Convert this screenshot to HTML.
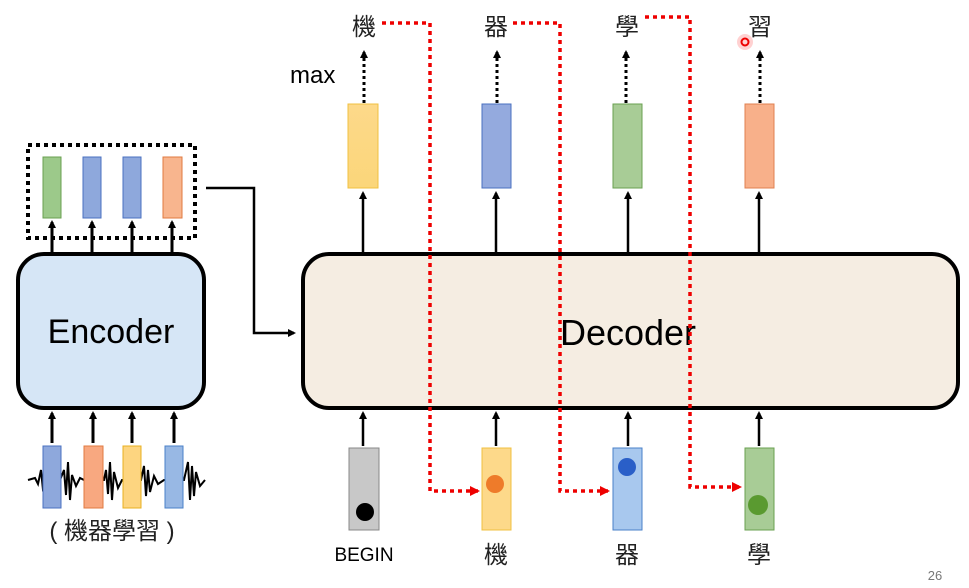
<!DOCTYPE html>
<html><head><meta charset="utf-8"><style>
body{margin:0;background:#fff;}
svg text{font-family:"Liberation Sans","Noto Sans CJK TC",sans-serif;}
</style></head><body>
<svg width="969" height="583" viewBox="0 0 969 583" xmlns="http://www.w3.org/2000/svg">
<defs>
<marker id="ah" markerWidth="8" markerHeight="8" refX="6" refY="4" orient="auto" markerUnits="userSpaceOnUse"><path d="M0,0 L8,4 L0,8 z" fill="#000"/></marker>
<marker id="rh" markerWidth="10" markerHeight="10" refX="8" refY="5" orient="auto" markerUnits="userSpaceOnUse"><path d="M0,0 L10,5 L0,10 z" fill="#e00"/></marker>
<linearGradient id="ye" x1="0" y1="0" x2="0" y2="1"><stop offset="0" stop-color="#fdd98a"/><stop offset="1" stop-color="#fbd67a"/></linearGradient>
</defs>
<!-- encoder outputs -->
<rect x="28" y="145" width="167" height="93" fill="none" stroke="#000" stroke-width="4" stroke-dasharray="4,4"/>
<rect x="43" y="157" width="18" height="61" fill="#9cc98a" stroke="#6aa050"/>
<rect x="83" y="157" width="18" height="61" fill="#8ea8dc" stroke="#4a70c0"/>
<rect x="123" y="157" width="18" height="61" fill="#8ea8dc" stroke="#4a70c0"/>
<rect x="163" y="157" width="19" height="61" fill="#f8b58e" stroke="#e07a40"/>
<g stroke="#000" stroke-width="3" marker-end="url(#ah)">
<line x1="52" y1="253" x2="52" y2="222"/><line x1="92" y1="253" x2="92" y2="222"/><line x1="132" y1="253" x2="132" y2="222"/><line x1="172" y1="253" x2="172" y2="222"/>
<line x1="52" y1="443" x2="52" y2="413"/><line x1="93" y1="443" x2="93" y2="413"/><line x1="132" y1="443" x2="132" y2="413"/><line x1="174" y1="443" x2="174" y2="413"/>
</g>
<rect x="18" y="254" width="186" height="154" rx="26" fill="#d6e6f6" stroke="#000" stroke-width="4"/>
<text x="111" y="343" font-size="34" text-anchor="middle">Encoder</text>
<!-- waveform -->
<path d="M28,480 L35,478 38,484 41,470 43,490 60,480 64,470 66,495 68,462 70,500 72,475 76,486 80,478 84,480 104,480 106,470 108,494 110,462 112,500 114,472 118,488 122,480 141,480 144,466 146,496 148,470 150,492 154,476 158,484 164,480 184,480 188,462 190,500 192,466 194,496 196,472 200,486 205,480" fill="none" stroke="#000" stroke-width="2"/>
<rect x="43" y="446" width="18" height="62" fill="#8ea8dc" stroke="#4a70c0"/>
<rect x="84" y="446" width="19" height="62" fill="#f8a880" stroke="#e07a40"/>
<rect x="123" y="446" width="18" height="62" fill="#fdd580" stroke="#e8b020"/>
<rect x="165" y="446" width="18" height="62" fill="#98b8e4" stroke="#4a80c8"/>
<text x="112" y="539" font-size="24" text-anchor="middle" fill="#222">( 機器學習 )</text>
<!-- connector -->
<polyline points="206,188 254,188 254,333 294,333" fill="none" stroke="#000" stroke-width="2.5" marker-end="url(#ah)"/>
<!-- decoder -->
<rect x="303" y="254" width="655" height="154" rx="26" fill="#f5ede2" stroke="#000" stroke-width="4"/>
<text x="628" y="345" font-size="36" text-anchor="middle">Decoder</text>
<!-- output bars -->
<rect x="348" y="104" width="30" height="84" fill="url(#ye)" stroke="#f0c040"/>
<rect x="482" y="104" width="29" height="84" fill="#94aade" stroke="#4a70c0"/>
<rect x="613" y="104" width="29" height="84" fill="#a8cc96" stroke="#6aa050"/>
<rect x="745" y="104" width="29" height="84" fill="#f8b08a" stroke="#e08050"/>
<g stroke="#000" stroke-width="2.5" marker-end="url(#ah)">
<line x1="363" y1="253" x2="363" y2="193"/><line x1="496" y1="253" x2="496" y2="193"/><line x1="628" y1="253" x2="628" y2="193"/><line x1="759" y1="253" x2="759" y2="193"/>
<line x1="363" y1="446" x2="363" y2="413"/><line x1="496" y1="446" x2="496" y2="413"/><line x1="628" y1="446" x2="628" y2="413"/><line x1="759" y1="446" x2="759" y2="413"/>
</g>
<g stroke="#000" stroke-width="3" stroke-dasharray="3,3" marker-end="url(#ah)">
<line x1="364" y1="103" x2="364" y2="52"/><line x1="497" y1="103" x2="497" y2="52"/><line x1="626" y1="103" x2="626" y2="52"/><line x1="760" y1="103" x2="760" y2="52"/>
</g>
<text x="364" y="35" font-size="24" text-anchor="middle" fill="#222">機</text>
<text x="496" y="35" font-size="24" text-anchor="middle" fill="#222">器</text>
<text x="627" y="35" font-size="24" text-anchor="middle" fill="#222">學</text>
<text x="760" y="35" font-size="24" text-anchor="middle" fill="#222">習</text>
<text x="290" y="83" font-size="24">max</text>
<circle cx="745" cy="42" r="8" fill="#f66" opacity="0.3"/>
<circle cx="745" cy="42" r="3.5" fill="none" stroke="#e00" stroke-width="2"/>
<!-- red dotted -->
<g fill="none" stroke="#e00" stroke-width="3.5" stroke-dasharray="4,4" marker-end="url(#rh)">
<polyline points="382,23 430,23 430,491 478,491"/>
<polyline points="513,23 560,23 560,491 608,491"/>
<polyline points="645,17 690,17 690,487 740,487"/>
</g>
<!-- bottom inputs -->
<rect x="349" y="448" width="30" height="82" fill="#c8c8c8" stroke="#888"/>
<circle cx="365" cy="512" r="9" fill="#000"/>
<rect x="482" y="448" width="29" height="82" fill="#fdd98a" stroke="#f0c040"/>
<circle cx="495" cy="484" r="9" fill="#ee7b2a"/>
<rect x="613" y="448" width="29" height="82" fill="#a8c8ee" stroke="#4a80c8"/>
<circle cx="627" cy="467" r="9" fill="#2a5fc8"/>
<rect x="745" y="448" width="29" height="82" fill="#a8cc96" stroke="#6aa050"/>
<circle cx="758" cy="505" r="10" fill="#5a9a30"/>
<text x="364" y="561" font-size="19" text-anchor="middle">BEGIN</text>
<text x="496" y="563" font-size="24" text-anchor="middle" fill="#222">機</text>
<text x="627" y="563" font-size="24" text-anchor="middle" fill="#222">器</text>
<text x="759" y="563" font-size="24" text-anchor="middle" fill="#222">學</text>
<text x="935" y="580" font-size="13" text-anchor="middle" fill="#777">26</text>
</svg>
</body></html>
